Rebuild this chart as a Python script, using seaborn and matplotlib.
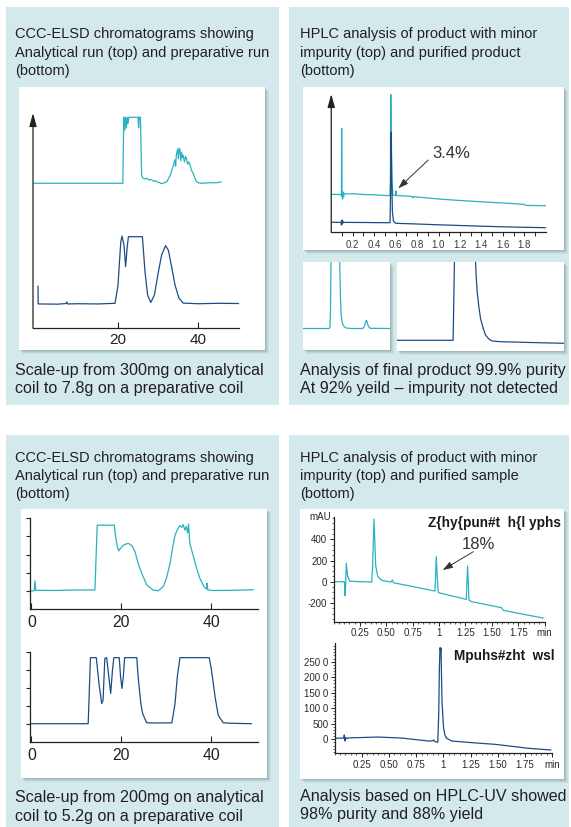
import matplotlib
matplotlib.use('Agg')
import matplotlib.pyplot as plt
import seaborn as sns
from matplotlib.patches import Rectangle
from matplotlib import font_manager

sns.set_style('white')
plt.rcParams['font.family'] = ['Liberation Sans', 'DejaVu Sans']

W, H = 571, 827
CYAN = '#2ab2c0'
NAVY = '#1b4d85'
PANEL = '#d4e9ec'
INK = '#231f20'
AXC = '#222222'

# ---------------- data ----------------
# Top-left: CCC-ELSD, 300 mg analytical (top) and 7.8 g preparative (bottom)
TL_TOP_T = [-1.25, 21.2, 21.45, 21.7, 21.9, 22.1, 22.3, 22.5, 22.7, 25.0, 25.15, 25.3, 25.6, 25.9,
            26.2, 26.8, 27.3, 27.8, 28.3, 28.8, 29.3, 29.8, 30.4, 30.9, 31.6, 32.2, 32.7, 33.1, 33.5,
            33.9, 34.2, 34.4, 34.6, 34.9, 35.1, 35.3, 35.5, 35.7, 35.9, 36.1, 36.3, 36.6, 36.9, 37.1,
            37.4, 37.7, 38.0, 38.4, 38.8, 39.2, 39.6, 40.2, 40.8, 42.0, 43.3, 44.5, 45.8]
TL_TOP_V = [68, 68, 99, 93, 99, 94, 99, 96, 99, 99, 94, 99, 99, 72,
            70.4, 70.0, 70.3, 69.5, 69.8, 69.0, 69.2, 68.6, 68.3, 67.8, 68.2, 68.7, 70.5, 71.8, 74.5,
            76.5, 79.0, 76.0, 81.5, 84.0, 79.5, 84.5, 83.6, 78.5, 82.5, 80.0, 81.2, 78.0, 80.5, 79.7,
            77.0, 78.0, 76.5, 74.0, 72.6, 70.5, 68.7, 68.2, 68.0, 68.1, 68.3, 68.2, 68.6]
TL_BOT_T = [0.0, 0.05, 5.0, 7.0, 7.2, 7.4, 10.0, 15.0, 19.25, 20.0, 20.4, 20.7, 21.0, 21.5, 21.9,
            22.3, 22.6, 26.1, 26.75, 27.4, 28.2, 29.1, 30.1, 30.9, 31.9, 32.6, 33.4, 34.25, 35.25,
            36.3, 40.0, 45.0, 50.4]
TL_BOT_V = [19.7, 11.3, 11.2, 11.5, 12.3, 11.3, 11.4, 11.3, 11.6, 20.0, 32.0, 40.5, 43.2, 39.0, 28.8,
            38.0, 42.9, 42.9, 26.4, 15.5, 12.0, 15.5, 26.4, 34.3, 38.7, 36.5, 28.8, 20.2, 14.0,
            11.7, 11.4, 11.6, 11.5]
TL_XTICKS = [20, 40]

# Top-right: HPLC, product with minor impurity (top) and purified product (bottom)
TR_CYAN_T = [0.0, 0.09, 0.095, 0.097, 0.100, 0.105, 0.110, 0.115, 0.12, 0.15, 0.20, 0.30, 0.40,
             0.50, 0.548, 0.552, 0.555, 0.560, 0.566, 0.575, 0.600, 0.604, 0.608, 0.70, 0.75, 0.76,
             0.77, 0.80, 1.00, 1.20, 1.40, 1.60, 1.79, 1.82, 2.00]
TR_CYAN_V = [37.7, 37.5, 36.0, 103.7, 40.0, 33.0, 40.0, 35.0, 38.5, 38.0, 38.3, 37.5, 37.2,
             36.5, 36.5, 60.0, 137.5, 100.0, 50.0, 37.0, 36.5, 41.0, 36.5, 36.0, 35.5, 34.0,
             35.5, 35.0, 33.0, 31.5, 30.2, 29.0, 27.7, 26.6, 26.3]
TR_NAVY_T = [0.0, 0.09, 0.095, 0.100, 0.105, 0.110, 0.12, 0.30, 0.50, 0.548, 0.553, 0.558, 0.563,
             0.570, 0.580, 0.600, 0.80, 1.00, 1.20, 1.40, 1.60, 1.80, 2.00]
TR_NAVY_V = [9.7, 9.7, 7.0, 12.0, 8.0, 10.5, 9.6, 9.5, 9.3, 9.3, 40.0, 100.0, 60.0,
             20.0, 11.0, 8.7, 8.0, 7.2, 6.5, 5.8, 5.2, 4.7, 4.3]
TR_XTICKS = [0.1, 0.2, 0.3, 0.4, 0.5, 0.6, 0.7, 0.8, 0.9, 1.0, 1.1, 1.2, 1.3, 1.4, 1.5, 1.6, 1.7, 1.8, 1.9]
TR_XLABELS = ['', '0.2', '', '0.4', '', '0.6', '', '0.8', '', '1.0', '', '1.2', '', '1.4', '', '1.6', '', '1.8', '']
# zoomed insets below the top-right chart
INL_T = [0, 30.0, 31.0, 31.6, 32.2, 33.0, 37.0, 41.5, 42.2, 43.0, 43.8, 44.7, 45.7, 47.5, 49.6, 55.0,
         68.5, 70.2, 71.5, 72.4, 72.9, 73.5, 74.6, 76.0, 77.5, 100]
INL_V = [21.5, 21.5, 23.0, 40, 89, 130, 150, 130, 89, 55, 35.7, 29.5, 25.7, 23.2, 22.0, 21.5,
         21.5, 23.0, 26.5, 29.2, 29.7, 28.8, 25.0, 22.5, 21.7, 21.5]
INR_T = [0, 33.6, 34.0, 34.5, 40.0, 46.8, 47.4, 48.0, 49.0, 50.0, 51.6, 53.0, 55.0, 57.0, 62.0, 80.0, 100]
INR_V = [10.7, 10.7, 50, 100, 150, 100, 75, 59.3, 44.3, 32.7, 22.7, 16.0, 12.0, 10.0, 9.3, 8.5, 7.7]

# Bottom-left: CCC-ELSD, 200 mg analytical (top) and 5.2 g preparative (bottom)
BL_TOP_T = [0, 0.6, 0.78, 0.95, 1.5, 5, 10, 14.1, 14.6, 18.4, 18.7, 19.1, 19.4, 19.8, 20.4, 21.0,
            21.5, 22.0, 22.3, 23.0, 23.7, 24.5, 25.6, 27.0, 28.2, 29.3, 30.0, 30.8, 31.4, 31.9, 32.3,
            32.6, 33.0, 33.4, 33.7, 34.1, 34.4, 34.7, 34.9, 35.2, 36.0, 36.7, 37.4, 38.3, 38.9, 39.0,
            39.2, 40.4, 45, 49.3]
BL_TOP_V = [0, 0, 0.55, 0.02, 0.03, 0.02, 0.05, 0.05, 3.62, 3.62, 2.98, 2.43, 2.2, 2.35, 2.52, 2.58,
            2.62, 2.55, 2.5, 2.16, 1.52, 0.97, 0.33, 0.05, 0.0, 0.24, 0.7, 1.52, 2.43, 3.07, 3.3,
            3.44, 3.6, 3.5, 3.65, 3.35, 3.55, 3.2, 3.68, 2.6, 1.88, 1.24, 0.7, 0.24, 0.1, 0.42,
            0.05, 0.02, 0.03, 0.06]
BL_BOT_T = [0, 5, 10, 12.6, 13.1, 14.4, 15.0, 15.6, 15.9, 16.3, 16.7, 17.1, 17.6, 18.0, 18.3, 19.5,
            19.8, 20.1, 20.4, 20.7, 23.4, 23.7, 24.3, 24.7, 25.6, 28, 31.2, 31.9, 32.4, 33.0, 39.5,
            40.0, 40.8, 41.5, 42.6, 45, 48.9]
BL_BOT_V = [0, 0, 0, 0, 3.67, 3.67, 2.23, 1.12, 1.3, 3.63, 3.67, 2.8, 1.68, 2.98, 3.67, 3.67,
            2.6, 1.96, 2.6, 3.67, 3.67, 2.6, 1.12, 0.56, 0.05, 0.04, 0.05, 1.12, 2.6, 3.67, 3.67,
            2.98, 1.49, 0.47, 0.05, 0.02, 0.0]
BL_XTICKS = [0, 20, 40]
BL_YTICKS = [0, 1, 2, 3, 4]

# Bottom-right: HPLC, starting material (top) and final sample (bottom)
BR_TOP_T = [0.013, 0.102, 0.108, 0.114, 0.120, 0.133, 0.155, 0.361, 0.370, 0.383, 0.399, 0.418,
            0.455, 0.544, 0.557, 0.569, 0.961, 0.967, 0.973, 0.983, 0.992, 1.011, 1.258, 1.264,
            1.270, 1.277, 1.283, 1.308, 1.592, 1.608, 1.988]
BR_TOP_V = [0, 0, -132, -40, 173, 50, 4, -3, 150, 591, 153, 50,
            13, -3, 16, -10, -88, 60, 236, 40, -100, -108, -166, 0,
            148, 0, -173, -188, -245, -270, -343]
BR_BOT_T = [0.004, 0.084, 0.090, 0.096, 0.102, 0.115, 0.127, 0.403, 0.617, 0.862, 0.902, 0.911,
            0.920, 0.948, 0.957, 0.963, 0.969, 0.975, 0.978, 0.987, 1.002, 1.015, 1.030, 1.076,
            1.259, 1.474, 1.657, 1.780, 1.988]
BR_BOT_V = [32, 40, 140, -55, 60, 20, 45, 73, 40, -55, -50, -20,
            -70, -97, 800, 2286, 2950, 2850, 2940, 1211, 348, 120, 32, -55,
            -108, -162, -237, -290, -344]
BR_XTICKS = [0.25, 0.50, 0.75, 1.0, 1.25, 1.50, 1.75, 2.0]
BR_XLABELS = ['0.25', '0.50', '0.75', '1', '1.25', '1.50', '1.75', 'min']
BR_TOP_YTICKS = [-200, 0, 200, 400]
BR_BOT_YTICKS = [0, 500, 1000, 1500, 2000, 2500]
BR_BOT_YLABELS = ['0', '500', '100 0', '150 0', '200 0', '250 0']

# ---------------- figure ----------------
fig = plt.figure(figsize=(W / 100, H / 100), dpi=100)
fig.patch.set_facecolor('white')
bg = fig.add_axes([0, 0, 1, 1])
bg.set_xlim(0, W)
bg.set_ylim(H, 0)
bg.axis('off')

# panels
for (x0, y0, x1, y1) in [(6, 7, 279, 405), (289, 7, 569, 405), (6, 435, 279, 827), (289, 435, 569, 827)]:
    bg.add_patch(Rectangle((x0, y0), x1 - x0, y1 - y0, color=PANEL, lw=0, zorder=0))


def wbox(x0, y0, x1, y1):
    for off, a in [(4, 0.06), (3, 0.08), (2, 0.10), (1, 0.12)]:
        bg.add_patch(Rectangle((x0 + off, y0 + off), x1 - x0, y1 - y0, color='#3a4a50', alpha=a, lw=0, zorder=1))
    bg.add_patch(Rectangle((x0, y0), x1 - x0, y1 - y0, color='white', lw=0, zorder=2))


wbox(19, 87, 265, 350)
wbox(303, 87, 564, 250)
wbox(303, 262, 390, 350)
wbox(397, 262, 564, 351)
wbox(21, 509, 267, 778)
wbox(300, 509, 564, 779)


def ptext(x, y, s, size):
    bg.text(x, y, s, fontsize=size, color=INK, va='baseline', ha='left', zorder=5)


TS, CS = 10.5, 11.6
ptext(15, 38.3, 'CCC-ELSD chromatograms showing', TS)
ptext(15, 56.7, 'Analytical run (top) and preparative run', TS)
ptext(15, 75.0, '(bottom)', TS)
ptext(15, 375.0, 'Scale-up from 300mg on analytical', CS)
ptext(15, 393.5, 'coil to 7.8g on a preparative coil', CS)

ptext(300, 38.3, 'HPLC analysis of product with minor', TS)
ptext(300, 56.7, 'impurity (top) and purified product', TS)
ptext(300, 75.0, '(bottom)', TS)
ptext(300, 374.5, 'Analysis of final product 99.9% purity', CS)
ptext(300, 393.0, 'At 92% yeild \u2013 impurity not detected', CS)

ptext(15, 461.7, 'CCC-ELSD chromatograms showing', TS)
ptext(15, 480.0, 'Analytical run (top) and preparative run', TS)
ptext(15, 498.3, '(bottom)', TS)
ptext(15, 801.7, 'Scale-up from 200mg on analytical', CS)
ptext(15, 820.5, 'coil to 5.2g on a preparative coil', CS)

ptext(300, 461.7, 'HPLC analysis of product with minor', TS)
ptext(300, 480.0, 'impurity (top) and purified sample', TS)
ptext(300, 498.3, '(bottom)', TS)
ptext(300, 800.5, 'Analysis based on HPLC-UV showed', CS)
ptext(300, 819.0, '98% purity and 88% yield', CS)


def add_ax(x0, y0, x1, y1, frame=True):
    ax = fig.add_axes([x0 / W, 1 - y1 / H, (x1 - x0) / W, (y1 - y0) / H])
    ax.set_facecolor('none')
    for s in ['top', 'right']:
        ax.spines[s].set_visible(False)
    for s in ['left', 'bottom']:
        ax.spines[s].set_color(AXC)
        ax.spines[s].set_linewidth(0.9)
    if not frame:
        ax.axis('off')
    return ax


def trace(ax, t, v, color, lw=0.9):
    sns.lineplot(x=t, y=v, ax=ax, color=color, lw=lw, estimator=None, sort=False, legend=False)
    ax.set(xlabel='', ylabel='')


def yarrow(ax):
    ax.spines['left'].set_visible(False)
    ax.annotate('', xy=(0, 1), xytext=(0, 0), xycoords='axes fraction', textcoords='axes fraction',
                arrowprops=dict(arrowstyle='-|>,head_length=0.8,head_width=0.22', color=AXC, lw=0.9,
                                shrinkA=0, shrinkB=0), annotation_clip=False)


# ---- top-left ----
ax1 = add_ax(33, 113, 239, 328)
trace(ax1, TL_TOP_T, TL_TOP_V, CYAN)
trace(ax1, TL_BOT_T, TL_BOT_V, NAVY)
ax1.set_xlim(-1.25, 50.25)
ax1.set_ylim(0, 101)
yarrow(ax1)
ax1.set_yticks([])
ax1.set_xticks(TL_XTICKS)
ax1.set_xticklabels([str(v) for v in TL_XTICKS])
ax1.tick_params(axis='x', direction='in', length=4.5, width=0.8, color=AXC, labelsize=11,
                labelcolor=INK, pad=3.5, bottom=True)

# ---- top-right ----
ax2 = add_ax(331.25, 94, 545.75, 232)
trace(ax2, TR_CYAN_T, TR_CYAN_V, CYAN)
trace(ax2, TR_NAVY_T, TR_NAVY_V, NAVY)
ax2.set_xlim(0, 2.0)
ax2.set_ylim(0, 138)
yarrow(ax2)
ax2.set_yticks([])
ax2.set_xticks(TR_XTICKS)
ax2.set_xticklabels(TR_XLABELS)
ax2.tick_params(axis='x', direction='out', length=3, width=0.7, color=AXC, labelsize=7,
                labelcolor='#3a3a3a', pad=2.5, bottom=True)
ax2.text(1.12, 78.7, '3.4%', fontsize=12, color='#333333', ha='center', va='center')
ax2.annotate('', xy=(0.625, 43.7), xytext=(0.905, 72),
             arrowprops=dict(arrowstyle='-|>,head_length=0.6,head_width=0.2', color='#333333', lw=0.7,
                             shrinkA=0, shrinkB=0))

axl = add_ax(303, 262, 390, 350, frame=False)
trace(axl, INL_T, INL_V, CYAN)
axl.set_xlim(0, 100)
axl.set_ylim(0, 88)
axl.axis('off')

axr = add_ax(397, 262, 564, 351, frame=False)
trace(axr, INR_T, INR_V, NAVY)
axr.set_xlim(0, 100)
axr.set_ylim(0, 89)
axr.axis('off')

# ---- bottom-left ----
for (yt, yb, t, v, c) in [(518.3, 609, BL_TOP_T, BL_TOP_V, CYAN), (651.7, 741.7, BL_BOT_T, BL_BOT_V, NAVY)]:
    ax = add_ax(30, yt, 257.7, yb)
    trace(ax, t, v, c)
    ax.set_xlim(-0.33, 50.27)
    ax.set_ylim(-1, 4)
    ax.set_xticks(BL_XTICKS)
    ax.set_xticklabels([str(x) for x in BL_XTICKS])
    ax.set_yticks(BL_YTICKS)
    ax.set_yticklabels([])
    ax.tick_params(axis='x', direction='in', length=4.5, width=0.8, color=AXC, labelsize=11.3,
                   labelcolor=INK, pad=4.5, bottom=True)
    ax.tick_params(axis='y', direction='out', length=3, width=0.8, color=AXC, left=True)

# ---- bottom-right ----
ax5 = add_ax(333.6, 516.7, 544.6, 621.7)
trace(ax5, BR_TOP_T, BR_TOP_V, CYAN)
ax5.set_xlim(0, 2.0)
ax5.set_ylim(-377, 613)
ax6 = add_ax(334.5, 643.3, 552.3, 753.3)
trace(ax6, BR_BOT_T, BR_BOT_V, NAVY)
ax6.set_xlim(0, 2.0)
ax6.set_ylim(-451, 3093)

for ax, yt, yl, ymin_step in [(ax5, BR_TOP_YTICKS, [str(v) for v in BR_TOP_YTICKS], 50),
                              (ax6, BR_BOT_YTICKS, BR_BOT_YLABELS, 100)]:
    ax.set_xticks(BR_XTICKS)
    ax.set_xticklabels(BR_XLABELS)
    ax.set_yticks(yt)
    ax.set_yticklabels(yl)
    ax.xaxis.set_minor_locator(matplotlib.ticker.MultipleLocator(0.05))
    ax.yaxis.set_minor_locator(matplotlib.ticker.MultipleLocator(ymin_step))
    ax.tick_params(which='major', direction='out', length=3, width=0.7, color=AXC, labelsize=7,
                   labelcolor='#2a2a2a', pad=1.5, bottom=True, left=True)
    ax.tick_params(which='minor', direction='out', length=1.6, width=0.5, color=AXC, bottom=True, left=True)

ax5.text(-0.02, 613, 'mAU', fontsize=7, color='#2a2a2a', ha='right', va='center')
ax5.text(1.372, 353, '18%', fontsize=12, color='#333333', ha='center', va='center')
ax5.annotate('', xy=(1.034, 110), xytext=(1.324, 283),
             arrowprops=dict(arrowstyle='-|>,head_length=0.6,head_width=0.2', color='#333333', lw=0.7,
                             shrinkA=0, shrinkB=0))

names = {f.name for f in font_manager.fontManager.ttflist}
if 'Liberation Sans Narrow' in names:
    gfam, gsize = ['Liberation Sans Narrow', 'Liberation Sans'], 12
else:
    gfam, gsize = ['Liberation Sans', 'DejaVu Sans'], 9.8
bg.text(561, 522.5, 'Z{hy{pun#t  h{l yphs', family=gfam, fontsize=gsize, weight='bold', color='#1a1a1a',
        ha='right', va='center', zorder=6)
bg.text(555, 656, 'Mpuhs#zht  wsl', family=gfam, fontsize=gsize, weight='bold', color='#1a1a1a',
        ha='right', va='center', zorder=6)

fig.savefig('out.png', dpi=100, facecolor='white')
